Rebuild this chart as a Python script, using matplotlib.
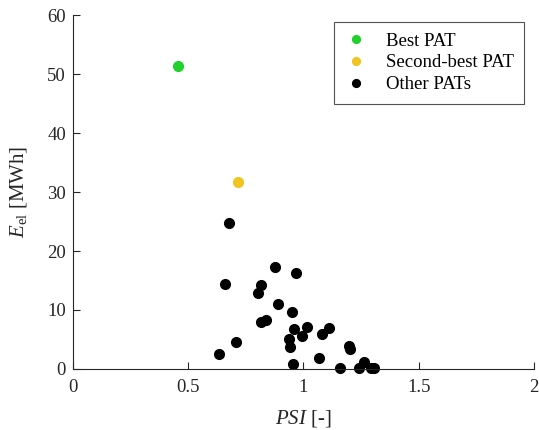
import matplotlib
matplotlib.use("Agg")
import matplotlib.pyplot as plt

plt.rcParams['font.family'] = 'Liberation Serif'
plt.rcParams['mathtext.fontset'] = 'custom'
plt.rcParams['mathtext.rm'] = 'Liberation Serif'
plt.rcParams['mathtext.it'] = 'Liberation Serif:italic'

# best and second-best PAT
best_psi = [0.456]
best_e = [51.4]
second_psi = [0.716]
second_e = [31.7]

# other PATs
other_psi = [0.677, 0.659, 0.878, 0.967, 0.817, 0.804, 0.891, 0.950, 0.816, 0.839,
             0.959, 1.015, 0.993, 1.112, 1.082, 0.936, 0.943, 0.707, 0.632, 1.196,
             1.200, 0.953, 1.066, 1.158, 1.242, 1.262, 1.291, 1.308]
other_e = [24.7, 14.4, 17.3, 16.2, 14.3, 12.8, 11.0, 9.7, 8.0, 8.3,
           6.7, 7.2, 5.6, 6.9, 5.9, 5.0, 3.8, 4.5, 2.5, 3.9,
           3.4, 0.8, 1.8, 0.2, 0.1, 1.1, 0.1, 0.1]

x_ticks = [0, 0.5, 1, 1.5, 2]
y_ticks = [0, 10, 20, 30, 40, 50, 60]

axis_col = '#262626'

fig = plt.figure(figsize=(5.39, 4.30), dpi=100)
ax = fig.add_axes([0.1354, 0.1419, 0.8553, 0.8231])

ax.plot(best_psi, best_e, 'o', color='#1fd12a', markersize=7, label='Best PAT', clip_on=False)
ax.plot(second_psi, second_e, 'o', color='#f0c51f', markersize=7, label='Second-best PAT', clip_on=False)
ax.plot(other_psi, other_e, 'o', color='black', markersize=7, label='Other PATs', clip_on=False)

ax.set_xlim(0, 2)
ax.set_ylim(0, 60)
ax.set_xticks(x_ticks)
ax.set_xticklabels(['0', '0.5', '1', '1.5', '2'])
ax.set_yticks(y_ticks)

for s in ['top', 'right']:
    ax.spines[s].set_visible(False)
for s in ['left', 'bottom']:
    ax.spines[s].set_color(axis_col)
    ax.spines[s].set_linewidth(0.8)

ax.tick_params(direction='in', length=5, width=0.8, colors=axis_col,
               labelsize=13.5, labelcolor='#262626')
ax.tick_params(axis='x', pad=7)
ax.tick_params(axis='y', pad=5)

ax.set_xlabel(r'$PSI$ [-]', fontsize=15, color='#262626', labelpad=9)
ax.set_ylabel(r'$E_{\rm el}$ [MWh]', fontsize=15, color='#262626', labelpad=13)

leg = ax.legend(loc='upper right', bbox_to_anchor=(0.978, 0.980), borderaxespad=0,
                fontsize=13.5, frameon=True, fancybox=False, edgecolor=axis_col,
                handlelength=1.3, handletextpad=0.9, borderpad=0.55,
                labelspacing=0.25, markerscale=0.8)
leg.get_frame().set_linewidth(0.8)

fig.savefig('out.png', dpi=100)
